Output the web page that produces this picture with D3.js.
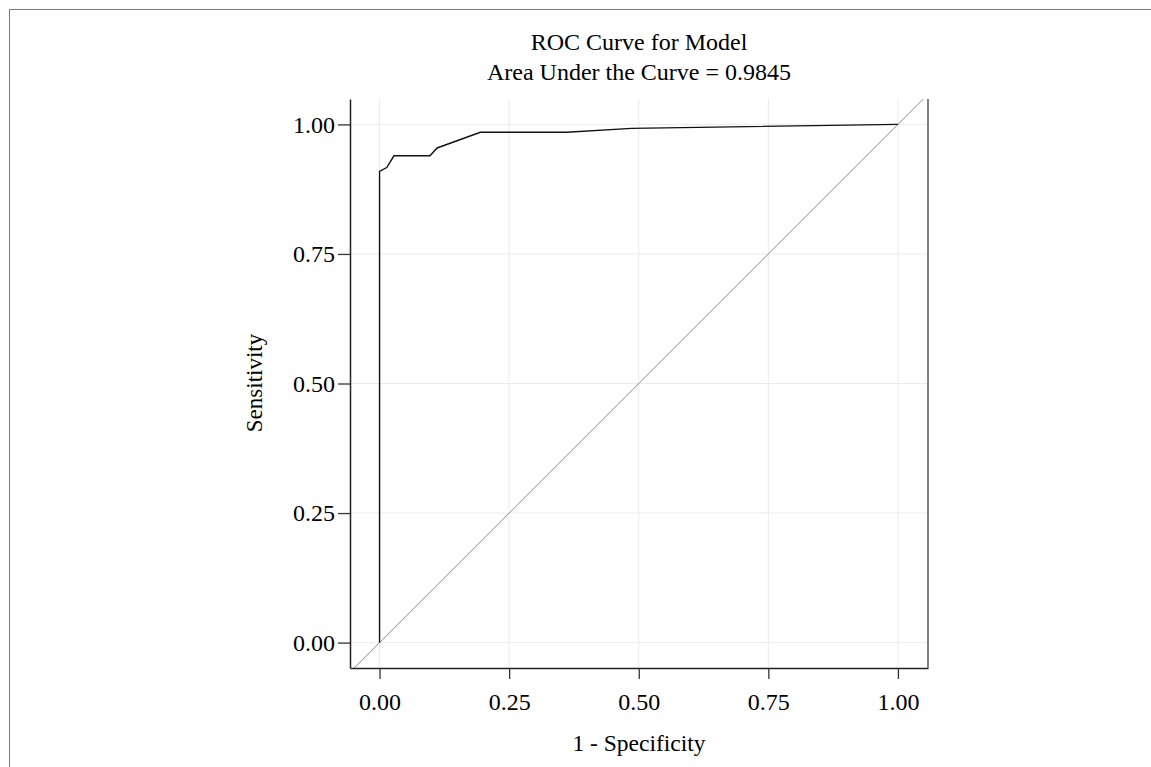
<!DOCTYPE html>
<html lang="en">
<head>
    <meta charset="UTF-8">
    <title>ROC Curve for Model</title>
    <script src="https://cdn.jsdelivr.net/npm/d3@7"></script>
    <style>
        body { margin: 0; background: #fff; }
        text { font-family: "Liberation Serif", "Times New Roman", serif; fill: #000; }
    </style>
</head>
<body>
    <svg id="svg"></svg>

    <script>

        var WIDTH = 1151;
        var HEIGHT = 767;

        // ROC points
        var fpr = [0, 0, 0.0139, 0.0278, 0.0972, 0.1111, 0.1944, 0.3611, 0.4861, 1];
        var tpr = [0, 0.9091, 0.9167, 0.9394, 0.9394, 0.9545, 0.9848, 0.9848, 0.9924, 1];

        var xTicks = [0, 0.25, 0.5, 0.75, 1];
        var yTicks = [0, 0.25, 0.5, 0.75, 1];

        var titleLines = ["ROC Curve for Model", "Area Under the Curve = 0.9845"];
        var xLabel = "1 - Specificity";
        var yLabel = "Sensitivity";

        var LEFT = 350, RIGHT = 928, TOP = 99, BOTTOM = 668;

        var xScale = d3.scaleLinear()
                        .domain([-0.057, 1.058])
                        .range([LEFT, RIGHT]);

        var yScale = d3.scaleLinear()
                        .domain([-0.049, 1.049])
                        .range([BOTTOM, TOP]);

        var svg = d3.select('#svg')
                    .attr("width", WIDTH)
                    .attr("height", HEIGHT);

        // outer frame (runs off the page on right and bottom)
        svg.append("rect")
            .attr("x", 9.5)
            .attr("y", 9.5)
            .attr("width", 1300)
            .attr("height", 900)
            .attr("fill", "none")
            .attr("stroke", "#7a7a7a")
            .attr("stroke-width", 1);

        svg.append("clipPath")
            .attr("id", "plotclip")
            .append("rect")
            .attr("x", LEFT)
            .attr("y", TOP)
            .attr("width", RIGHT - LEFT)
            .attr("height", BOTTOM - TOP);

        // grid
        svg.append("g").selectAll("line")
            .data(xTicks)
            .enter()
            .append("line")
            .attr("x1", function(d){ return xScale(d); })
            .attr("x2", function(d){ return xScale(d); })
            .attr("y1", TOP)
            .attr("y2", BOTTOM)
            .attr("stroke", "#ebebeb")
            .attr("stroke-width", 1);

        svg.append("g").selectAll("line")
            .data(yTicks)
            .enter()
            .append("line")
            .attr("y1", function(d){ return yScale(d); })
            .attr("y2", function(d){ return yScale(d); })
            .attr("x1", LEFT)
            .attr("x2", RIGHT)
            .attr("stroke", "#ebebeb")
            .attr("stroke-width", 1);

        var plot = svg.append("g").attr("clip-path", "url(#plotclip)");

        // reference diagonal
        plot.append("line")
            .attr("x1", xScale(-0.1))
            .attr("y1", yScale(-0.1))
            .attr("x2", xScale(1.1))
            .attr("y2", yScale(1.1))
            .attr("stroke", "#8a8a8a")
            .attr("stroke-width", 1);

        var line = d3.line()
                     .x(function(d){ return xScale(d[0]); })
                     .y(function(d){ return yScale(d[1]); });

        plot.append("path")
            .datum(d3.zip(fpr, tpr))
            .attr("d", line)
            .attr("fill", "none")
            .attr("stroke", "#111")
            .attr("stroke-width", 1.4);

        var xAxis = d3.axisBottom(xScale)
                      .tickValues(xTicks)
                      .tickFormat(d3.format(".2f"))
                      .tickSize(11)
                      .tickSizeOuter(0)
                      .tickPadding(14);

        var yAxis = d3.axisLeft(yScale)
                      .tickValues(yTicks)
                      .tickFormat(d3.format(".2f"))
                      .tickSize(12)
                      .tickSizeOuter(0)
                      .tickPadding(3);

        svg.append("g")
            .attr("class", "x axis")
            .attr("transform", "translate(0," + BOTTOM + ")")
            .call(xAxis);

        svg.append("g")
            .attr("class", "y axis")
            .attr("transform", "translate(" + LEFT + ",0)")
            .call(yAxis);

        svg.selectAll(".axis path.domain")
            .attr("stroke", "#222")
            .attr("stroke-width", 1.5);
        svg.selectAll(".axis .tick line")
            .attr("stroke", "#333")
            .attr("stroke-width", 1.3);
        svg.selectAll(".axis text")
            .attr("font-family", "Liberation Serif, Times New Roman, serif")
            .attr("font-size", "24px")
            .attr("fill", "#000");

        // right border of the plot area
        svg.append("line")
            .attr("x1", RIGHT)
            .attr("x2", RIGHT)
            .attr("y1", TOP)
            .attr("y2", BOTTOM)
            .attr("stroke", "#808080")
            .attr("stroke-width", 2);

        // titles
        svg.selectAll("text.title")
            .data(titleLines)
            .enter()
            .append("text")
            .attr("class", "title")
            .attr("x", (LEFT + RIGHT) / 2)
            .attr("y", function(d, i){ return 50 + i * 30; })
            .attr("text-anchor", "middle")
            .attr("font-size", "24px")
            .text(function(d){ return d; });

        svg.append("text")
            .attr("x", (LEFT + RIGHT) / 2)
            .attr("y", 751)
            .attr("text-anchor", "middle")
            .attr("font-size", "23.5px")
            .text(xLabel);

        svg.append("text")
            .attr("transform", "translate(262,383) rotate(-90)")
            .attr("text-anchor", "middle")
            .attr("font-size", "23px")
            .text(yLabel);

    </script>
</body>
</html>
